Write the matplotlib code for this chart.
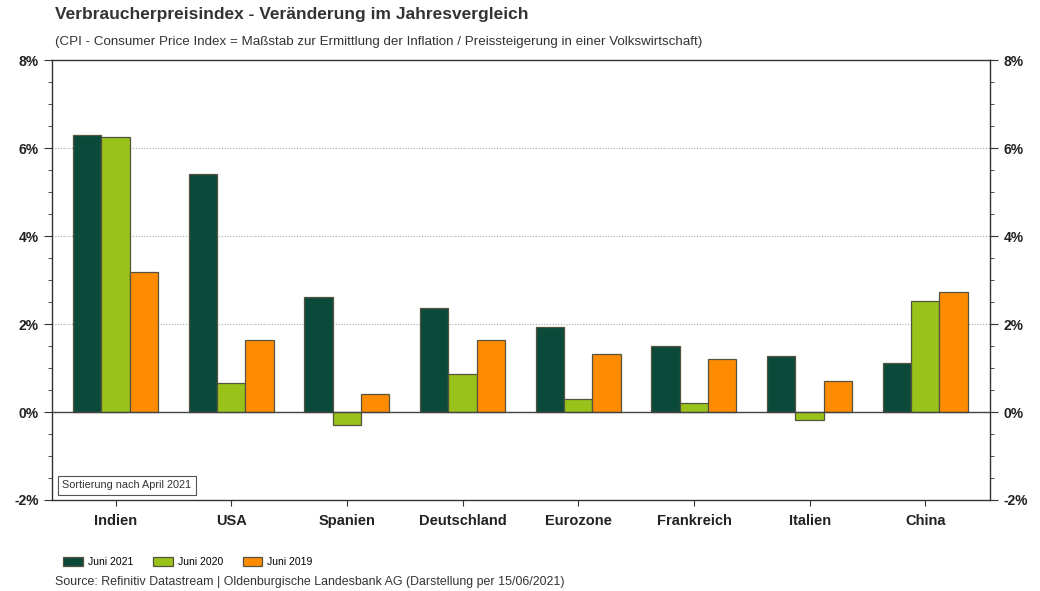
import matplotlib
matplotlib.use('Agg')
import matplotlib.pyplot as plt
import numpy as np
from matplotlib.ticker import MultipleLocator, FuncFormatter

plt.rcParams['font.family'] = ['Liberation Sans', 'DejaVu Sans']

# Daten (Veränderung zum Vorjahr in %)
laender = ['Indien', 'USA', 'Spanien', 'Deutschland', 'Eurozone', 'Frankreich', 'Italien', 'China']
juni_2021 = [6.30, 5.41, 2.61, 2.36, 1.93, 1.50, 1.27, 1.11]
juni_2020 = [6.25, 0.66, -0.30, 0.86, 0.30, 0.20, -0.18, 2.52]
juni_2019 = [3.18, 1.64, 0.41, 1.64, 1.32, 1.20, 0.70, 2.73]
serien = ['Juni 2021', 'Juni 2020', 'Juni 2019']
farben = ['#0b4a3a', '#99c31a', '#ff8c00']

fig = plt.figure(figsize=(10.4, 5.91), dpi=100)
ax = fig.add_axes([0.05, 0.154, 0.902, 0.744])

x = np.arange(len(laender))
w = 0.245
for i, (werte, name, col) in enumerate(zip([juni_2021, juni_2020, juni_2019], serien, farben)):
    ax.bar(x + (i - 1) * w, werte, w, color=col, edgecolor='#55533f', linewidth=0.9,
           label=name, zorder=3)

ax.set_xlim(-0.55, 7.56)
ax.set_ylim(-2, 8)

# Gitter und Nulllinie
for y in [2, 4, 6]:
    ax.axhline(y, color='#aaaaaa', linestyle=(0, (1, 1.5)), linewidth=0.8, zorder=1)
ax.axhline(0, color='#444444', linewidth=1, zorder=4)

for s in ax.spines.values():
    s.set_color('#333333')
    s.set_linewidth(1)

ax.yaxis.set_major_locator(MultipleLocator(2))
ax.yaxis.set_minor_locator(MultipleLocator(0.5))
ax.yaxis.set_major_formatter(FuncFormatter(lambda v, p: f'{v:.0f}%'))
ax.tick_params(axis='y', which='both', left=True, right=True, labelleft=True, labelright=True,
               direction='out', colors='#333333', labelcolor='#222222')
ax.tick_params(axis='y', which='major', length=6, labelsize=10)
ax.tick_params(axis='y', which='minor', length=3)
for lbl in ax.get_yticklabels():
    lbl.set_fontweight('bold')

ax.set_xticks(x)
ax.set_xticklabels(laender, fontweight='bold', fontsize=10.5, color='#222222')
ax.tick_params(axis='x', length=4, direction='out', colors='#333333', labelcolor='#222222', pad=6)

# Hinweisbox
ax.text(0.011, 0.033, 'Sortierung nach April 2021', transform=ax.transAxes,
        fontsize=7.8, color='#333333', va='center', ha='left',
        bbox=dict(boxstyle='square,pad=0.4', facecolor='white', edgecolor='#555555', linewidth=0.8),
        zorder=5)

# Titel
fig.text(0.053, 0.975, 'Verbraucherpreisindex - Veränderung im Jahresvergleich',
         fontsize=12.5, fontweight='bold', color='#333333', va='center')
fig.text(0.053, 0.929, '(CPI - Consumer Price Index = Maßstab zur Ermittlung der Inflation / Preissteigerung in einer Volkswirtschaft)',
         fontsize=9.6, color='#333333', va='center')

# Legende
fig.legend(loc='center left', bbox_to_anchor=(0.052, 0.049), ncol=3, frameon=False,
           fontsize=7.5, handlelength=1.9, handleheight=0.9, columnspacing=1.9, handletextpad=0.45)

fig.text(0.053, 0.015, 'Source: Refinitiv Datastream | Oldenburgische Landesbank AG (Darstellung per 15/06/2021)',
         fontsize=8.9, color='#333333', va='center')

fig.savefig('out.png', dpi=100)
